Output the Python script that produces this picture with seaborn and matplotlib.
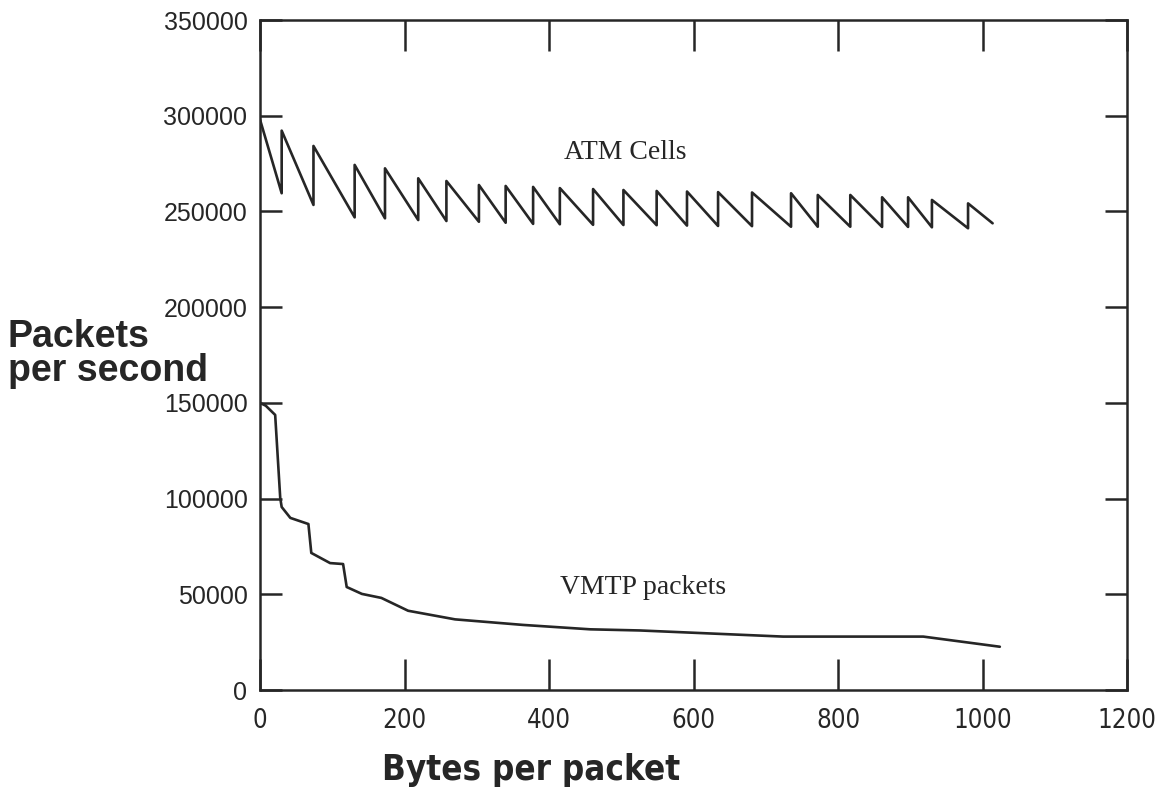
import matplotlib
matplotlib.use("Agg")
import matplotlib.pyplot as plt
import seaborn as sns
import pandas as pd

# ---------------- data ----------------
atm_start_bytes = 0
atm_start_pps = 298000
atm_jump_bytes = [30, 74, 131, 173, 219, 258, 303, 340, 378, 415, 461, 503,
                  549, 591, 634, 681, 735, 772, 817, 861, 897, 930, 980]
atm_trough_pps = [259500, 253400, 246900, 246400, 245500, 245000, 244600, 244100,
                  243500, 243300, 243000, 242900, 242800, 242600, 242400, 242300,
                  242000, 242000, 242000, 241900, 241900, 241700, 241200]
atm_peak_pps = [292200, 284200, 274300, 272500, 267300, 265900, 263800, 263300,
                262800, 262200, 261700, 261200, 260700, 260400, 260100, 259900,
                259500, 258600, 258600, 257400, 257400, 256000, 254200]
atm_end_bytes = 1014
atm_end_pps = 243800

vmtp_bytes = [0, 8, 21, 28, 30, 42, 67, 71, 97, 115, 120, 141, 168, 205, 270,
              364, 457, 526, 724, 918, 1024]
vmtp_pps = [150000, 148500, 143700, 100300, 95600, 89900, 86700, 71600, 66300,
            65800, 53800, 50200, 48100, 41400, 36900, 34000, 31700, 31100,
            27900, 27900, 22600]

x_ticks = [0, 200, 400, 600, 800, 1000, 1200]
y_ticks = [0, 50000, 100000, 150000, 200000, 250000, 300000, 350000]

# build the sawtooth polyline (vertical jump at each cell boundary)
atm_x = [atm_start_bytes]
atm_y = [atm_start_pps]
for b, t, p in zip(atm_jump_bytes, atm_trough_pps, atm_peak_pps):
    atm_x += [b, b]
    atm_y += [t, p]
atm_x.append(atm_end_bytes)
atm_y.append(atm_end_pps)

atm_df = pd.DataFrame({"bytes": atm_x, "pps": atm_y})
vmtp_df = pd.DataFrame({"bytes": vmtp_bytes, "pps": vmtp_pps})

# ---------------- style ----------------
sns.set_theme(style="ticks")
plt.rcParams["font.family"] = ["Liberation Sans", "DejaVu Sans"]
ink = "#262626"
narrow = dict(family=["DejaVu Sans"], stretch="condensed")

fig = plt.figure(figsize=(11.62, 7.93), dpi=100)
ax = fig.add_axes([260 / 1162, 1 - 690 / 793, 867 / 1162, 670 / 793])

sns.lineplot(data=atm_df, x="bytes", y="pps", sort=False, estimator=None,
             ax=ax, color=ink, linewidth=1.9)
sns.lineplot(data=vmtp_df, x="bytes", y="pps", sort=False, estimator=None,
             ax=ax, color=ink, linewidth=1.9)

ax.set_xlim(0, 1200)
ax.set_ylim(0, 350000)
ax.set_xticks(x_ticks)
ax.set_xticklabels([str(v) for v in x_ticks])
ax.set_yticks(y_ticks)
ax.set_yticklabels([str(v) for v in y_ticks])

for s in ax.spines.values():
    s.set_visible(True)
    s.set_linewidth(1.8)
    s.set_color(ink)

ax.tick_params(axis="x", direction="in", length=22, width=1.8, top=True,
               bottom=True, pad=13, labelsize=18.5, colors=ink)
ax.tick_params(axis="y", direction="in", length=16, width=1.8, left=True,
               right=True, pad=9, labelsize=18, colors=ink)
for lab in ax.get_xticklabels():
    lab.set_family(narrow["family"])
    lab.set_stretch(narrow["stretch"])

ax.set_xlabel("Bytes per packet", fontsize=25, fontweight="bold", color=ink,
              **narrow)
ax.xaxis.set_label_coords((531 - 260) / 867, (690 - 770) / 670)
ax.xaxis.label.set_va("center")

ax.set_ylabel("Packets\nper second", fontsize=27, fontweight="bold", color=ink,
              rotation=0, ha="left", va="center", linespacing=0.95)
ax.yaxis.set_label_coords((8 - 260) / 867, (690 - 354) / 670)

ax.text(505, 281000, "ATM Cells", fontsize=20, ha="center", va="center",
        color=ink, family=["Liberation Serif", "DejaVu Serif"])
ax.text(530, 53300, "VMTP packets", fontsize=20, ha="center", va="center",
        color=ink, family=["Liberation Serif", "DejaVu Serif"])

fig.savefig("out.png", dpi=100, facecolor="white")
